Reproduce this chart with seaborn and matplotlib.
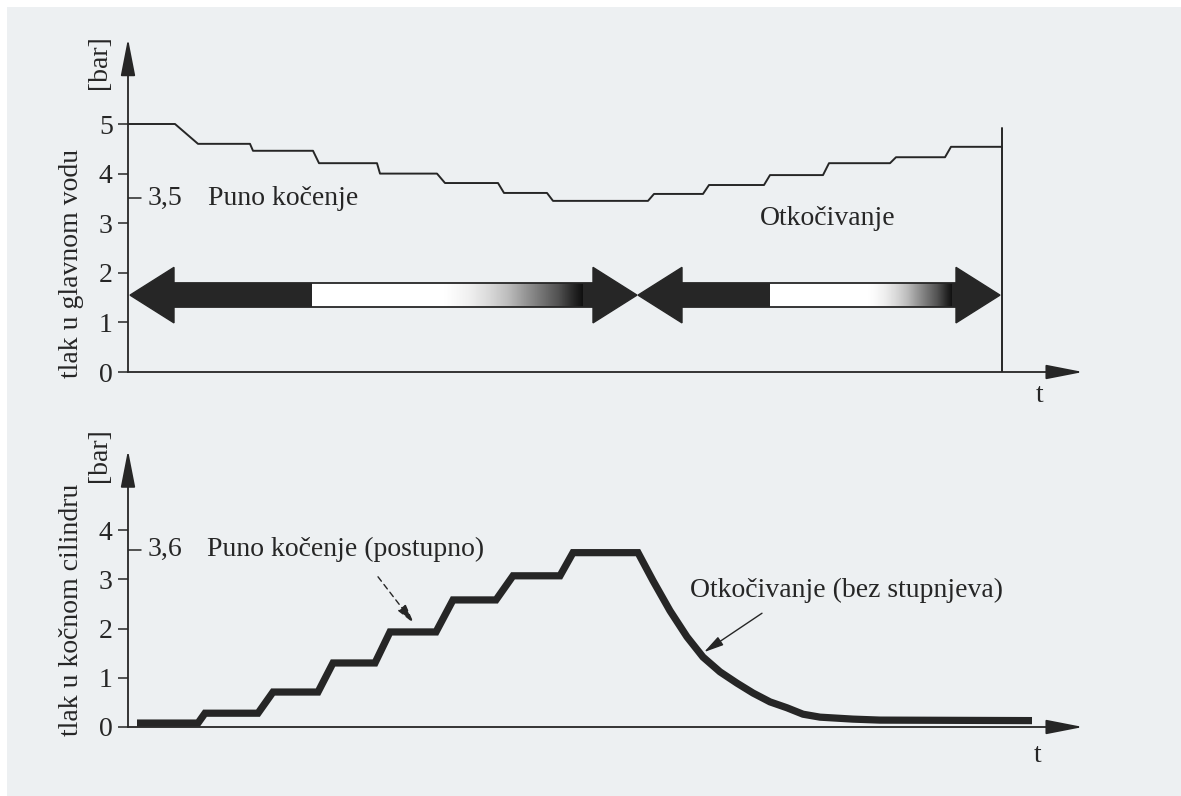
import numpy as np
import pandas as pd
import matplotlib
matplotlib.use('Agg')
import matplotlib.pyplot as plt
import seaborn as sns
from matplotlib.patches import Polygon, Rectangle

# --- data (t in arbitrary time units) ---
# main pipe pressure (upper chart)
t_vod = [0.0, 4.7, 7.0, 12.2, 12.5, 18.5, 19.1, 24.9, 25.2, 30.9, 31.7, 37.0, 37.6,
         41.9, 42.5, 52.0, 52.6, 57.5, 58.1, 63.6, 64.2, 69.5, 70.1, 76.2, 76.8,
         81.7, 82.3, 87.4]
p_vod = [5.0, 5.0, 4.6, 4.6, 4.46, 4.46, 4.21, 4.21, 4.0, 4.0, 3.81, 3.81, 3.61,
         3.61, 3.45, 3.45, 3.59, 3.59, 3.77, 3.77, 3.97, 3.97, 4.21, 4.21, 4.33,
         4.33, 4.54, 4.54]
# brake cylinder pressure (lower chart)
t_cil = [0.9, 7.0, 7.7, 13.0, 14.5, 19.0, 20.5, 24.7, 26.2, 30.8, 32.5, 36.8, 38.5,
         43.2, 44.5, 51.0, 52.5, 54.2, 55.9, 57.5, 59.2, 60.9, 62.5, 64.2, 65.9,
         67.5, 69.2, 72.5, 75.2, 90.4]
p_cil = [0.08, 0.08, 0.28, 0.28, 0.71, 0.71, 1.30, 1.30, 1.93, 1.93, 2.58, 2.58, 3.07,
         3.07, 3.54, 3.54, 2.97, 2.36, 1.83, 1.42, 1.12, 0.89, 0.69, 0.51, 0.39,
         0.26, 0.20, 0.16, 0.14, 0.13]

ticks_vod = [0, 1, 2, 3, 4, 5]
ticks_cil = [0, 1, 2, 3, 4]
t_kraj = 87.4          # end of the release phase (vertical line)
p_kraj = 4.92
t_sredina = 50.9       # where braking arrow meets release arrow

vod = pd.DataFrame({'t': t_vod, 'p': p_vod})
cil = pd.DataFrame({'t': t_cil, 'p': p_cil})

W, H = 1181, 796
BG = '#edf0f2'
INK = '#262626'

sns.set_theme(style='white')
plt.rcParams['font.family'] = ['Liberation Serif', 'DejaVu Serif']
plt.rcParams['text.color'] = INK

fig = plt.figure(figsize=(W / 100, H / 100), dpi=100)
fig.patch.set_facecolor('white')
fig.patches.append(Rectangle((7 / W, -0.01), 1.01, 1.01 - 7 / H, transform=fig.transFigure,
                             facecolor=BG, edgecolor='none', zorder=-10))


def px_axes(x0, x1, y_zero, y_top):
    # axes placed by pixel positions (y measured from the top of the image)
    return fig.add_axes([x0 / W, (H - y_zero) / H, (x1 - x0) / W, (y_zero - y_top) / H])


ax1 = px_axes(128, 1090, 372, 372 - 6.8 * 49.6)
ax2 = px_axes(128, 1090, 727, 727 - 5.7 * 49.25)


def osi(ax, ytop, yticks):
    ax.set_xlim(0, 96.2)
    ax.set_ylim(0, ytop)
    ax.patch.set_alpha(0)
    for s in ax.spines.values():
        s.set_visible(False)
    ax.set_xticks([])
    ax.set_yticks(yticks)
    ax.set_yticklabels([str(v) for v in yticks])
    ax.tick_params(axis='y', direction='out', length=7, width=1.1, color=INK,
                   labelsize=20, labelcolor=INK, pad=4, left=True)
    ax.grid(False)
    arr = dict(arrowstyle='-|>,head_length=2.3,head_width=0.45', color=INK, lw=1.3,
               shrinkA=0, shrinkB=0, mutation_scale=10)
    ax.annotate('', xy=(0, ytop - 0.08), xytext=(0, 0), arrowprops=arr)
    ax.annotate('', xy=(95.5, 0), xytext=(0, 0), arrowprops=arr)


osi(ax1, 6.8, ticks_vod)
osi(ax2, 5.7, ticks_cil)

# --- upper chart ---
sns.lineplot(data=vod, x='t', y='p', ax=ax1, color=INK, lw=1.4, estimator=None, sort=False)
ax1.plot([t_kraj, t_kraj], [0, p_kraj], color=INK, lw=1.4)
ax1.plot([0, 1.3], [3.5, 3.5], color=INK, lw=1.1)
ax1.text(2.0, 3.5, '3,5', fontsize=20, va='center')
ax1.text(8.0, 3.5, 'Puno kočenje', fontsize=20, va='center')
ax1.text(63.2, 3.1, 'Otkočivanje', fontsize=20, va='center')

# thick double arrows with fading shaft
yc, sh, hh, hl = 1.55, 0.24, 0.56, 4.4


def strelica(ax, a, b, crno_do, bijelo_do, sivo_do):
    # heads
    ax.add_patch(Polygon([[a, yc], [a + hl, yc + hh], [a + hl, yc - hh]], closed=True,
                         facecolor=INK, edgecolor=INK, lw=1, zorder=3))
    ax.add_patch(Polygon([[b, yc], [b - hl, yc + hh], [b - hl, yc - hh]], closed=True,
                         facecolor=INK, edgecolor=INK, lw=1, zorder=3))
    # shaft pieces
    ax.add_patch(Rectangle((a + hl - 0.1, yc - sh), crno_do - a - hl + 0.1, 2 * sh,
                           facecolor=INK, edgecolor='none', zorder=2))
    ax.add_patch(Rectangle((crno_do, yc - sh), bijelo_do - crno_do, 2 * sh,
                           facecolor='white', edgecolor='none', zorder=2))
    grad = np.linspace(0, 1, 200)[None, :] ** 1.2
    ax.imshow(grad, extent=[bijelo_do, sivo_do, yc - sh, yc + sh], cmap='Greys',
              vmin=0, vmax=1.05, aspect='auto', zorder=2, interpolation='bilinear')
    ax.add_patch(Rectangle((sivo_do - 0.05, yc - sh), b - hl - sivo_do + 0.2, 2 * sh,
                           facecolor=INK, edgecolor='none', zorder=2))
    ax.plot([a + hl, b - hl], [yc + sh, yc + sh], color=INK, lw=1.3, zorder=3)
    ax.plot([a + hl, b - hl], [yc - sh, yc - sh], color=INK, lw=1.3, zorder=3)


strelica(ax1, 0.2, t_sredina, 18.4, 31.5, 45.5)
strelica(ax1, t_sredina + 0.1, t_kraj - 0.2, 64.2, 74.0, 82.5)
ax1.set_xlim(0, 96.2)
ax1.set_ylim(0, 6.8)

# --- lower chart ---
sns.lineplot(data=cil, x='t', y='p', ax=ax2, color=INK, lw=5.2, estimator=None,
             sort=False, solid_joinstyle='miter', solid_capstyle='butt')
ax2.plot([0, 1.3], [3.6, 3.6], color=INK, lw=1.1)
ax2.text(2.0, 3.6, '3,6', fontsize=20, va='center')
ax2.text(7.9, 3.6, 'Puno kočenje (postupno)', fontsize=20, va='center')
ax2.text(56.2, 2.78, 'Otkočivanje (bez stupnjeva)', fontsize=20, va='center')
ax2.annotate('', xy=(28.6, 2.1), xytext=(25.0, 3.05),
             arrowprops=dict(arrowstyle='-|>,head_length=1.0,head_width=0.25', color=INK,
                             lw=1.0, ls=(0, (4, 3)), shrinkA=0, shrinkB=0))
ax2.annotate('', xy=(57.6, 1.52), xytext=(63.4, 2.31),
             arrowprops=dict(arrowstyle='-|>,head_length=1.0,head_width=0.25', color=INK,
                             lw=1.0, shrinkA=0, shrinkB=0))

# seaborn puts column names on the axes; the drawing has none there
for ax in (ax1, ax2):
    ax.set_xlabel('')
    ax.set_ylabel('')

# axis titles
for naslov, yc_px, bar_px in [('tlak u glavnom vodu', 263, 62),
                               ('tlak u kočnom cilindru', 610, 455)]:
    fig.text(72 / W, 1 - yc_px / H, naslov, rotation=90, fontsize=20,
             ha='center', va='center')
    fig.text(100 / W, 1 - bar_px / H, '[bar]', rotation=90, fontsize=20,
             ha='center', va='center')

fig.text(1040 / W, 1 - 395 / H, 't', fontsize=20, ha='center', va='center')
fig.text(1038 / W, 1 - 755 / H, 't', fontsize=20, ha='center', va='center')

plt.savefig('out.png', dpi=100, facecolor=fig.get_facecolor())
